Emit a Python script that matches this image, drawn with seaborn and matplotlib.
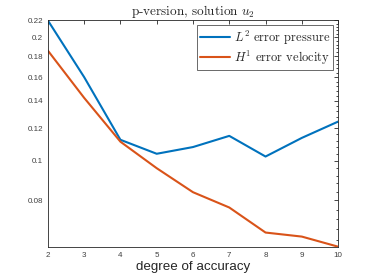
import numpy as np
import pandas as pd
import matplotlib
matplotlib.use('Agg')
import matplotlib.pyplot as plt
import seaborn as sns
from matplotlib.ticker import FixedLocator, MultipleLocator, NullFormatter

# values
degree = [2, 3, 4, 5, 6, 7, 8, 9, 10]
l2_pressure = [0.220, 0.160, 0.1125, 0.104, 0.108, 0.115, 0.1024, 0.1137, 0.1246]
h1_velocity = [0.1857, 0.1424, 0.1113, 0.0959, 0.0838, 0.0769, 0.0668, 0.0653, 0.0617]
series_names = ['$L^2$ error pressure', '$H^1$ error velocity']
y_ticks = [0.08, 0.1, 0.12, 0.14, 0.16, 0.18, 0.2, 0.22]
y_tick_labels = ['0.08', '0.1', '0.12', '0.14', '0.16', '0.18', '0.2', '0.22']

df = pd.DataFrame({
    'degree': degree * 2,
    'error': l2_pressure + h1_velocity,
    'series': [series_names[0]] * len(degree) + [series_names[1]] * len(degree),
})

sns.set_style('white')
plt.rcParams['mathtext.fontset'] = 'cm'
plt.rcParams['axes.unicode_minus'] = False
plt.rcParams['font.family'] = ['Liberation Sans', 'DejaVu Sans']

fig = plt.figure(figsize=(3.74, 2.8), dpi=100)
ax = fig.add_axes([0.128, 0.119, 0.776, 0.808])

sns.lineplot(data=df, x='degree', y='error', hue='series',
             palette=['#0072BD', '#D95319'], linewidth=1.5, ax=ax)

ax.set_yscale('log')
ax.set_xlim(2, 10)
ax.set_ylim(0.0617, 0.22)
ax.yaxis.set_major_locator(FixedLocator(y_ticks))
ax.set_yticklabels(y_tick_labels)
ax.yaxis.set_minor_locator(MultipleLocator(0.004))
ax.yaxis.set_minor_formatter(NullFormatter())
ax.set_xticks(degree)

for side in ax.spines.values():
    side.set_color('#262626')
    side.set_linewidth(0.6)
ax.tick_params(which='both', direction='in', top=True, right=True,
               color='#262626', width=0.6, labelsize=5.8, labelcolor='#404040')
ax.tick_params(which='major', length=3)
ax.tick_params(which='minor', length=1.5)
ax.tick_params(axis='x', pad=3.5)

ax.set_xlabel('degree of accuracy', fontsize=9.6, color='#262626', labelpad=1.5)
ax.set_ylabel('')
ax.set_title('p-version, solution $u_2$', family='cmr10', fontsize=9.5, pad=4)

leg = ax.legend(loc='upper right', prop={'family': 'cmr10', 'size': 9},
                frameon=True, fancybox=False, edgecolor='#262626',
                handlelength=2.4, borderpad=0.25, labelspacing=0.15,
                handletextpad=0.3, borderaxespad=0.4)
leg.get_frame().set_linewidth(0.6)

fig.savefig('out.png', dpi=100)
